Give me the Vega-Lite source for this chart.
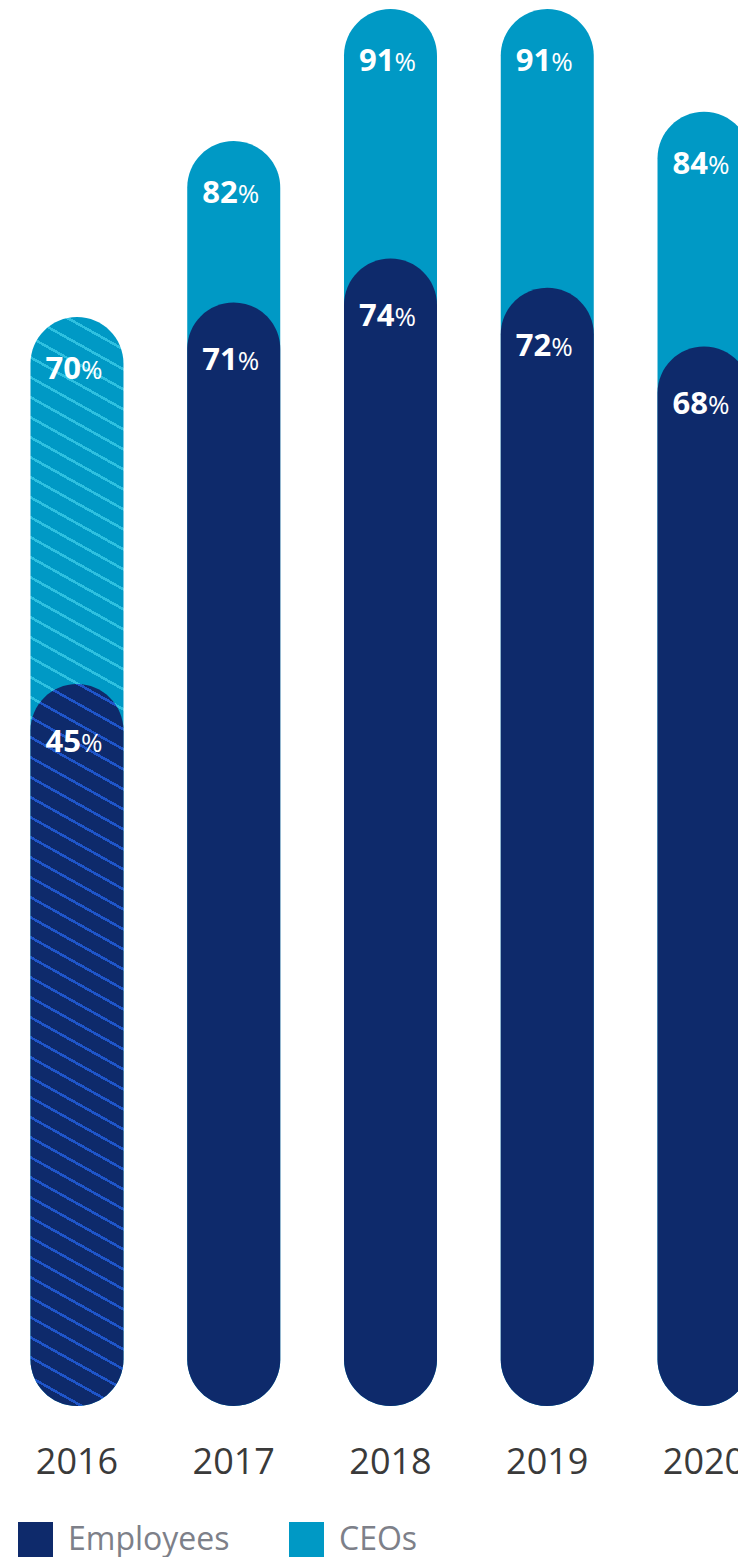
{
  "$schema": "https://vega.github.io/schema/vega-lite/v6.json",
  "width": 738,
  "height": 1557,
  "autosize": {"type": "none"},
  "padding": 0,
  "background": "#ffffff",
  "config": {"view": {"stroke": null}},
  "data": {
    "values": [
      {"year": "2016", "series": "CEOs", "value": 70},
      {"year": "2017", "series": "CEOs", "value": 82},
      {"year": "2018", "series": "CEOs", "value": 91},
      {"year": "2019", "series": "CEOs", "value": 91},
      {"year": "2020", "series": "CEOs", "value": 84},
      {"year": "2016", "series": "Employees", "value": 45},
      {"year": "2017", "series": "Employees", "value": 71},
      {"year": "2018", "series": "Employees", "value": 74},
      {"year": "2019", "series": "Employees", "value": 72},
      {"year": "2020", "series": "Employees", "value": 68}
    ]
  },
  "encoding": {
    "x": {
      "field": "year",
      "type": "nominal",
      "axis": null,
      "scale": {"type": "band", "range": [-1.4, 782.4], "paddingInner": 0.4067, "paddingOuter": 0.20335}
    },
    "y": {
      "field": "value",
      "type": "quantitative",
      "axis": null,
      "scale": {"domain": [-14.495, 91.61], "nice": false, "zero": false}
    }
  },
  "layer": [
    {
      "transform": [{"filter": "datum.series == 'CEOs' && datum.year != '2016'"}],
      "mark": {"type": "bar", "cornerRadius": 46.5},
      "encoding": {
        "y2": {"datum": -4.205},
        "color": {
          "field": "series",
          "type": "nominal",
          "scale": {"domain": ["Employees", "CEOs"], "range": ["#0e2a6b", "#0099c5"]},
          "legend": {
            "title": null,
            "orient": "none",
            "legendX": 18,
            "legendY": 1522,
            "direction": "horizontal",
            "padding": 0,
            "symbolType": "square",
            "symbolSize": 1225,
            "symbolStrokeWidth": 0,
            "symbolOpacity": 1,
            "labelFont": "Open Sans",
            "labelFontSize": 32,
            "labelColor": "#7d8089",
            "labelOffset": 15,
            "labelLimit": 400,
            "columnPadding": 59,
            "labelBaseline": "middle"
          }
        }
      }
    },
    {
      "transform": [{"filter": "datum.series == 'CEOs' && datum.year == '2016'"}],
      "mark": {
        "type": "bar",
        "cornerRadius": 46.5,
        "fill": {
          "gradient": "linear",
          "x1": 1, "y1": 0, "x2": 0.95001, "y2": 1.04543,
          "stops": [
            {"offset": 0, "color": "#0099c5"},
            {"offset": 0.0095, "color": "#0099c5"}, {"offset": 0.0095, "color": "#2ec0e0"}, {"offset": 0.0121, "color": "#2ec0e0"}, {"offset": 0.0121, "color": "#0099c5"},
            {"offset": 0.0270, "color": "#0099c5"}, {"offset": 0.0270, "color": "#2ec0e0"}, {"offset": 0.0296, "color": "#2ec0e0"}, {"offset": 0.0296, "color": "#0099c5"},
            {"offset": 0.0445, "color": "#0099c5"}, {"offset": 0.0445, "color": "#2ec0e0"}, {"offset": 0.0471, "color": "#2ec0e0"}, {"offset": 0.0471, "color": "#0099c5"},
            {"offset": 0.0621, "color": "#0099c5"}, {"offset": 0.0621, "color": "#2ec0e0"}, {"offset": 0.0647, "color": "#2ec0e0"}, {"offset": 0.0647, "color": "#0099c5"},
            {"offset": 0.0796, "color": "#0099c5"}, {"offset": 0.0796, "color": "#2ec0e0"}, {"offset": 0.0822, "color": "#2ec0e0"}, {"offset": 0.0822, "color": "#0099c5"},
            {"offset": 0.0971, "color": "#0099c5"}, {"offset": 0.0971, "color": "#2ec0e0"}, {"offset": 0.0997, "color": "#2ec0e0"}, {"offset": 0.0997, "color": "#0099c5"},
            {"offset": 0.1146, "color": "#0099c5"}, {"offset": 0.1146, "color": "#2ec0e0"}, {"offset": 0.1172, "color": "#2ec0e0"}, {"offset": 0.1172, "color": "#0099c5"},
            {"offset": 0.1322, "color": "#0099c5"}, {"offset": 0.1322, "color": "#2ec0e0"}, {"offset": 0.1348, "color": "#2ec0e0"}, {"offset": 0.1348, "color": "#0099c5"},
            {"offset": 0.1497, "color": "#0099c5"}, {"offset": 0.1497, "color": "#2ec0e0"}, {"offset": 0.1523, "color": "#2ec0e0"}, {"offset": 0.1523, "color": "#0099c5"},
            {"offset": 0.1672, "color": "#0099c5"}, {"offset": 0.1672, "color": "#2ec0e0"}, {"offset": 0.1698, "color": "#2ec0e0"}, {"offset": 0.1698, "color": "#0099c5"},
            {"offset": 0.1847, "color": "#0099c5"}, {"offset": 0.1847, "color": "#2ec0e0"}, {"offset": 0.1873, "color": "#2ec0e0"}, {"offset": 0.1873, "color": "#0099c5"},
            {"offset": 0.2023, "color": "#0099c5"}, {"offset": 0.2023, "color": "#2ec0e0"}, {"offset": 0.2049, "color": "#2ec0e0"}, {"offset": 0.2049, "color": "#0099c5"},
            {"offset": 0.2198, "color": "#0099c5"}, {"offset": 0.2198, "color": "#2ec0e0"}, {"offset": 0.2224, "color": "#2ec0e0"}, {"offset": 0.2224, "color": "#0099c5"},
            {"offset": 0.2373, "color": "#0099c5"}, {"offset": 0.2373, "color": "#2ec0e0"}, {"offset": 0.2399, "color": "#2ec0e0"}, {"offset": 0.2399, "color": "#0099c5"},
            {"offset": 0.2548, "color": "#0099c5"}, {"offset": 0.2548, "color": "#2ec0e0"}, {"offset": 0.2574, "color": "#2ec0e0"}, {"offset": 0.2574, "color": "#0099c5"},
            {"offset": 0.2724, "color": "#0099c5"}, {"offset": 0.2724, "color": "#2ec0e0"}, {"offset": 0.2750, "color": "#2ec0e0"}, {"offset": 0.2750, "color": "#0099c5"},
            {"offset": 0.2899, "color": "#0099c5"}, {"offset": 0.2899, "color": "#2ec0e0"}, {"offset": 0.2925, "color": "#2ec0e0"}, {"offset": 0.2925, "color": "#0099c5"},
            {"offset": 0.3074, "color": "#0099c5"}, {"offset": 0.3074, "color": "#2ec0e0"}, {"offset": 0.3100, "color": "#2ec0e0"}, {"offset": 0.3100, "color": "#0099c5"},
            {"offset": 0.3250, "color": "#0099c5"}, {"offset": 0.3250, "color": "#2ec0e0"}, {"offset": 0.3276, "color": "#2ec0e0"}, {"offset": 0.3276, "color": "#0099c5"},
            {"offset": 0.3425, "color": "#0099c5"}, {"offset": 0.3425, "color": "#2ec0e0"}, {"offset": 0.3451, "color": "#2ec0e0"}, {"offset": 0.3451, "color": "#0099c5"},
            {"offset": 0.3600, "color": "#0099c5"}, {"offset": 0.3600, "color": "#2ec0e0"}, {"offset": 0.3626, "color": "#2ec0e0"}, {"offset": 0.3626, "color": "#0099c5"},
            {"offset": 0.3775, "color": "#0099c5"}, {"offset": 0.3775, "color": "#2ec0e0"}, {"offset": 0.3801, "color": "#2ec0e0"}, {"offset": 0.3801, "color": "#0099c5"},
            {"offset": 0.3951, "color": "#0099c5"}, {"offset": 0.3951, "color": "#2ec0e0"}, {"offset": 0.3977, "color": "#2ec0e0"}, {"offset": 0.3977, "color": "#0099c5"},
            {"offset": 0.4126, "color": "#0099c5"}, {"offset": 0.4126, "color": "#2ec0e0"}, {"offset": 0.4152, "color": "#2ec0e0"}, {"offset": 0.4152, "color": "#0099c5"},
            {"offset": 1, "color": "#0099c5"}
          ]
        }
      },
      "encoding": {"y2": {"datum": -4.205}}
    },
    {
      "transform": [{"filter": "datum.series == 'Employees' && datum.year != '2016'"}],
      "mark": {"type": "bar", "cornerRadius": 46.5},
      "encoding": {
        "y2": {"datum": -4.205},
        "color": {"field": "series", "type": "nominal"}
      }
    },
    {
      "transform": [{"filter": "datum.series == 'Employees' && datum.year == '2016'"}],
      "mark": {
        "type": "bar",
        "cornerRadius": 46.5,
        "fill": {
          "gradient": "linear",
          "x1": 1, "y1": 0, "x2": 0.92307, "y2": 1.06658,
          "stops": [
            {"offset": 0, "color": "#0e2a6b"},
            {"offset": 0.0051, "color": "#0e2a6b"}, {"offset": 0.0051, "color": "#1f55c9"}, {"offset": 0.0089, "color": "#1f55c9"}, {"offset": 0.0089, "color": "#0e2a6b"},
            {"offset": 0.0309, "color": "#0e2a6b"}, {"offset": 0.0309, "color": "#1f55c9"}, {"offset": 0.0347, "color": "#1f55c9"}, {"offset": 0.0347, "color": "#0e2a6b"},
            {"offset": 0.0567, "color": "#0e2a6b"}, {"offset": 0.0567, "color": "#1f55c9"}, {"offset": 0.0605, "color": "#1f55c9"}, {"offset": 0.0605, "color": "#0e2a6b"},
            {"offset": 0.0826, "color": "#0e2a6b"}, {"offset": 0.0826, "color": "#1f55c9"}, {"offset": 0.0864, "color": "#1f55c9"}, {"offset": 0.0864, "color": "#0e2a6b"},
            {"offset": 0.1084, "color": "#0e2a6b"}, {"offset": 0.1084, "color": "#1f55c9"}, {"offset": 0.1122, "color": "#1f55c9"}, {"offset": 0.1122, "color": "#0e2a6b"},
            {"offset": 0.1342, "color": "#0e2a6b"}, {"offset": 0.1342, "color": "#1f55c9"}, {"offset": 0.1380, "color": "#1f55c9"}, {"offset": 0.1380, "color": "#0e2a6b"},
            {"offset": 0.1601, "color": "#0e2a6b"}, {"offset": 0.1601, "color": "#1f55c9"}, {"offset": 0.1639, "color": "#1f55c9"}, {"offset": 0.1639, "color": "#0e2a6b"},
            {"offset": 0.1859, "color": "#0e2a6b"}, {"offset": 0.1859, "color": "#1f55c9"}, {"offset": 0.1897, "color": "#1f55c9"}, {"offset": 0.1897, "color": "#0e2a6b"},
            {"offset": 0.2117, "color": "#0e2a6b"}, {"offset": 0.2117, "color": "#1f55c9"}, {"offset": 0.2155, "color": "#1f55c9"}, {"offset": 0.2155, "color": "#0e2a6b"},
            {"offset": 0.2376, "color": "#0e2a6b"}, {"offset": 0.2376, "color": "#1f55c9"}, {"offset": 0.2414, "color": "#1f55c9"}, {"offset": 0.2414, "color": "#0e2a6b"},
            {"offset": 0.2634, "color": "#0e2a6b"}, {"offset": 0.2634, "color": "#1f55c9"}, {"offset": 0.2672, "color": "#1f55c9"}, {"offset": 0.2672, "color": "#0e2a6b"},
            {"offset": 0.2893, "color": "#0e2a6b"}, {"offset": 0.2893, "color": "#1f55c9"}, {"offset": 0.2931, "color": "#1f55c9"}, {"offset": 0.2931, "color": "#0e2a6b"},
            {"offset": 0.3151, "color": "#0e2a6b"}, {"offset": 0.3151, "color": "#1f55c9"}, {"offset": 0.3189, "color": "#1f55c9"}, {"offset": 0.3189, "color": "#0e2a6b"},
            {"offset": 0.3409, "color": "#0e2a6b"}, {"offset": 0.3409, "color": "#1f55c9"}, {"offset": 0.3447, "color": "#1f55c9"}, {"offset": 0.3447, "color": "#0e2a6b"},
            {"offset": 0.3668, "color": "#0e2a6b"}, {"offset": 0.3668, "color": "#1f55c9"}, {"offset": 0.3706, "color": "#1f55c9"}, {"offset": 0.3706, "color": "#0e2a6b"},
            {"offset": 0.3926, "color": "#0e2a6b"}, {"offset": 0.3926, "color": "#1f55c9"}, {"offset": 0.3964, "color": "#1f55c9"}, {"offset": 0.3964, "color": "#0e2a6b"},
            {"offset": 0.4184, "color": "#0e2a6b"}, {"offset": 0.4184, "color": "#1f55c9"}, {"offset": 0.4222, "color": "#1f55c9"}, {"offset": 0.4222, "color": "#0e2a6b"},
            {"offset": 0.4443, "color": "#0e2a6b"}, {"offset": 0.4443, "color": "#1f55c9"}, {"offset": 0.4481, "color": "#1f55c9"}, {"offset": 0.4481, "color": "#0e2a6b"},
            {"offset": 0.4701, "color": "#0e2a6b"}, {"offset": 0.4701, "color": "#1f55c9"}, {"offset": 0.4739, "color": "#1f55c9"}, {"offset": 0.4739, "color": "#0e2a6b"},
            {"offset": 0.4960, "color": "#0e2a6b"}, {"offset": 0.4960, "color": "#1f55c9"}, {"offset": 0.4998, "color": "#1f55c9"}, {"offset": 0.4998, "color": "#0e2a6b"},
            {"offset": 0.5218, "color": "#0e2a6b"}, {"offset": 0.5218, "color": "#1f55c9"}, {"offset": 0.5256, "color": "#1f55c9"}, {"offset": 0.5256, "color": "#0e2a6b"},
            {"offset": 0.5476, "color": "#0e2a6b"}, {"offset": 0.5476, "color": "#1f55c9"}, {"offset": 0.5514, "color": "#1f55c9"}, {"offset": 0.5514, "color": "#0e2a6b"},
            {"offset": 0.5735, "color": "#0e2a6b"}, {"offset": 0.5735, "color": "#1f55c9"}, {"offset": 0.5773, "color": "#1f55c9"}, {"offset": 0.5773, "color": "#0e2a6b"},
            {"offset": 0.5993, "color": "#0e2a6b"}, {"offset": 0.5993, "color": "#1f55c9"}, {"offset": 0.6031, "color": "#1f55c9"}, {"offset": 0.6031, "color": "#0e2a6b"},
            {"offset": 0.6251, "color": "#0e2a6b"}, {"offset": 0.6251, "color": "#1f55c9"}, {"offset": 0.6289, "color": "#1f55c9"}, {"offset": 0.6289, "color": "#0e2a6b"},
            {"offset": 0.6510, "color": "#0e2a6b"}, {"offset": 0.6510, "color": "#1f55c9"}, {"offset": 0.6548, "color": "#1f55c9"}, {"offset": 0.6548, "color": "#0e2a6b"},
            {"offset": 0.6768, "color": "#0e2a6b"}, {"offset": 0.6768, "color": "#1f55c9"}, {"offset": 0.6806, "color": "#1f55c9"}, {"offset": 0.6806, "color": "#0e2a6b"},
            {"offset": 0.7027, "color": "#0e2a6b"}, {"offset": 0.7027, "color": "#1f55c9"}, {"offset": 0.7065, "color": "#1f55c9"}, {"offset": 0.7065, "color": "#0e2a6b"},
            {"offset": 0.7285, "color": "#0e2a6b"}, {"offset": 0.7285, "color": "#1f55c9"}, {"offset": 0.7323, "color": "#1f55c9"}, {"offset": 0.7323, "color": "#0e2a6b"},
            {"offset": 0.7543, "color": "#0e2a6b"}, {"offset": 0.7543, "color": "#1f55c9"}, {"offset": 0.7581, "color": "#1f55c9"}, {"offset": 0.7581, "color": "#0e2a6b"},
            {"offset": 0.7802, "color": "#0e2a6b"}, {"offset": 0.7802, "color": "#1f55c9"}, {"offset": 0.7840, "color": "#1f55c9"}, {"offset": 0.7840, "color": "#0e2a6b"},
            {"offset": 0.8060, "color": "#0e2a6b"}, {"offset": 0.8060, "color": "#1f55c9"}, {"offset": 0.8098, "color": "#1f55c9"}, {"offset": 0.8098, "color": "#0e2a6b"},
            {"offset": 0.8318, "color": "#0e2a6b"}, {"offset": 0.8318, "color": "#1f55c9"}, {"offset": 0.8356, "color": "#1f55c9"}, {"offset": 0.8356, "color": "#0e2a6b"},
            {"offset": 0.8577, "color": "#0e2a6b"}, {"offset": 0.8577, "color": "#1f55c9"}, {"offset": 0.8615, "color": "#1f55c9"}, {"offset": 0.8615, "color": "#0e2a6b"},
            {"offset": 0.8835, "color": "#0e2a6b"}, {"offset": 0.8835, "color": "#1f55c9"}, {"offset": 0.8873, "color": "#1f55c9"}, {"offset": 0.8873, "color": "#0e2a6b"},
            {"offset": 0.9094, "color": "#0e2a6b"}, {"offset": 0.9094, "color": "#1f55c9"}, {"offset": 0.9132, "color": "#1f55c9"}, {"offset": 0.9132, "color": "#0e2a6b"},
            {"offset": 0.9352, "color": "#0e2a6b"}, {"offset": 0.9352, "color": "#1f55c9"}, {"offset": 0.9390, "color": "#1f55c9"}, {"offset": 0.9390, "color": "#0e2a6b"},
            {"offset": 0.9610, "color": "#0e2a6b"}, {"offset": 0.9610, "color": "#1f55c9"}, {"offset": 0.9648, "color": "#1f55c9"}, {"offset": 0.9648, "color": "#0e2a6b"},
            {"offset": 0.9869, "color": "#0e2a6b"}, {"offset": 0.9869, "color": "#1f55c9"}, {"offset": 0.9907, "color": "#1f55c9"}, {"offset": 0.9907, "color": "#0e2a6b"},
            {"offset": 1, "color": "#0e2a6b"}
          ]
        }
      },
      "encoding": {"y2": {"datum": -4.205}}
    },
    {
      "transform": [{"filter": "datum.series == 'CEOs'"}],
      "mark": {"type": "text", "font": "Open Sans", "fontWeight": "bold", "fontSize": 31, "fill": "#ffffff", "align": "right", "baseline": "alphabetic", "dx": 4, "dy": 62},
      "encoding": {"text": {"field": "value", "type": "quantitative"}}
    },
    {
      "transform": [{"filter": "datum.series == 'CEOs'"}],
      "mark": {"type": "text", "font": "Open Sans", "fontSize": 26, "fill": "#ffffff", "align": "left", "baseline": "alphabetic", "dx": 4, "dy": 62},
      "encoding": {"text": {"value": "%"}}
    },
    {
      "transform": [{"filter": "datum.series == 'Employees'"}],
      "mark": {"type": "text", "font": "Open Sans", "fontWeight": "bold", "fontSize": 31, "fill": "#ffffff", "align": "right", "baseline": "alphabetic", "dx": 4, "dy": 68},
      "encoding": {"text": {"field": "value", "type": "quantitative"}}
    },
    {
      "transform": [{"filter": "datum.series == 'Employees'"}],
      "mark": {"type": "text", "font": "Open Sans", "fontSize": 26, "fill": "#ffffff", "align": "left", "baseline": "alphabetic", "dx": 4, "dy": 68},
      "encoding": {"text": {"value": "%"}}
    },
    {
      "transform": [{"filter": "datum.series == 'Employees'"}],
      "mark": {"type": "text", "font": "Open Sans", "fontSize": 36, "fill": "#3a3a3a", "align": "center", "baseline": "alphabetic", "dy": 68},
      "encoding": {
        "y": {"datum": -4.205},
        "text": {"field": "year", "type": "nominal"}
      }
    }
  ]
}
